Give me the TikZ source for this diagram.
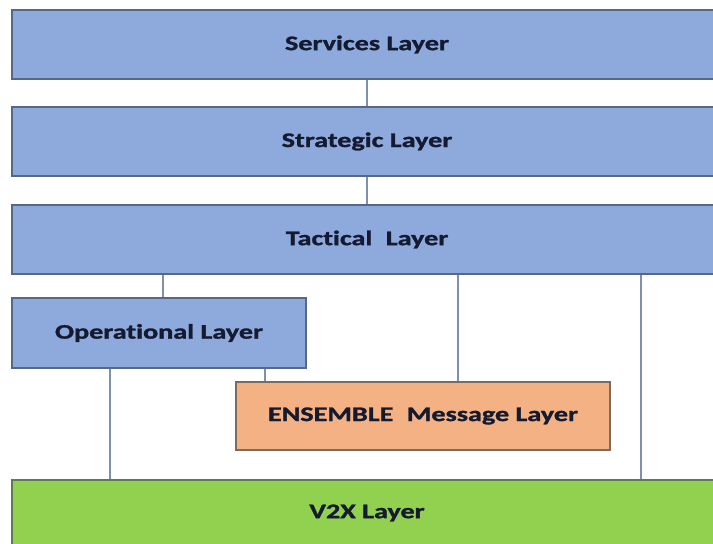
\documentclass[tikz,border=0pt]{standalone}
\usepackage{fontspec}
\usepackage{graphicx}
\setmainfont{Carlito}[Ligatures=NoCommon, BoldFeatures={FakeBold=1.2}]
\definecolor{layerblue}{HTML}{8EA9DB}
\definecolor{blueedge}{HTML}{56688A}
\definecolor{layerorange}{HTML}{F4B183}
\definecolor{orangeedge}{HTML}{7A6A60}
\definecolor{layergreen}{HTML}{92D050}
\definecolor{greenedge}{HTML}{5E7A55}
\definecolor{linkcol}{HTML}{7F8FAD}
\definecolor{labelink}{HTML}{141A30}
\newcommand\layertext[1]{\scalebox{1.36}[1]{\fontsize{20.7}{24}\selectfont\bfseries #1}}
\tikzset{
  layer/.style={draw, line width=1.3pt, inner sep=0pt, minimum height=69pt, text=labelink},
  bluelayer/.style={layer, fill=layerblue, draw=blueedge},
  link/.style={draw=linkcol, line width=1.2pt},
}
\begin{document}
\begin{tikzpicture}[x=1pt, y=-1pt]
  \useasboundingbox (0,0) rectangle (713,544);
  \fill[white] (0,0) rectangle (713,544);
  \clip (0,0) rectangle (713,544);

  % layer boxes
  \node[bluelayer, minimum width=710pt] (serv) at (367,44.5) {\layertext{Services Layer}};
  \node[bluelayer, minimum width=710pt] (strat) at (367,141.5) {\layertext{Strategic Layer}};
  \node[bluelayer, minimum width=710pt] (tact) at (367,239.5) {\layertext{Tactical\hspace{0.25em} Layer}};
  \node[bluelayer, minimum width=294pt, minimum height=70pt] (oper) at (159,333) {\layertext{Operational Layer}};
  \node[layer, fill=layerorange, draw=orangeedge, minimum width=374pt, minimum height=68pt] (ens) at (423,416) {\layertext{ENSEMBLE\hspace{0.25em} Message Layer}};
  \node[layer, fill=layergreen, draw=greenedge, minimum width=710pt, minimum height=66pt] (v2x) at (367,513) {\layertext{V2X Layer}};

  % connectors between layers
  \draw[link] (serv.south) -- (strat.north);
  \draw[link] (strat.south) -- (tact.north);
  \draw[link] ([xshift=4pt]oper.north) -- ([xshift=4pt]oper.north |- tact.south);
  \draw[link] ([xshift=35pt]ens.north) -- ([xshift=35pt]ens.north |- tact.south);
  \draw[link] ([xshift=274pt]tact.south) -- ([xshift=274pt]tact.south |- v2x.north);
  \draw[link] ([xshift=-49pt]oper.south) -- ([xshift=-49pt]oper.south |- v2x.north);
  \draw[link] ([xshift=106pt]oper.south) -- ([xshift=106pt]oper.south |- ens.north);
\end{tikzpicture}
\end{document}
